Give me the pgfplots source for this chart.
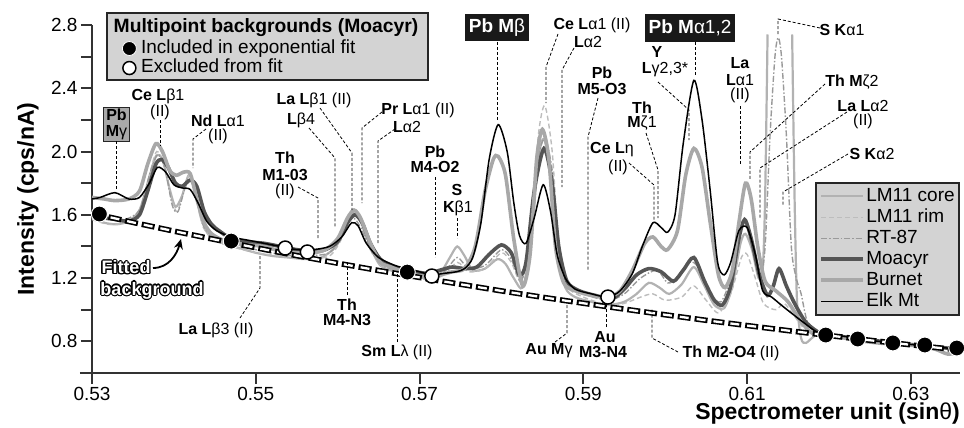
\documentclass[border=0pt]{standalone}
\usepackage{fontspec}
\setmainfont{Liberation Sans}
\usepackage{pgfplots}
\pgfplotsset{compat=1.18}
\usetikzlibrary{arrows.meta}
\usepackage{contour}
\contourlength{1.1pt}
\definecolor{axgray}{HTML}{333333}
\definecolor{coreC}{HTML}{B2B2B2}
\definecolor{rimC}{HTML}{BDBDBD}
\definecolor{rtC}{HTML}{9A9A9A}
\definecolor{moaC}{HTML}{555555}
\definecolor{burC}{HTML}{A8A8A8}
\definecolor{legfill}{HTML}{D3D3D3}
\definecolor{boxgray}{HTML}{A9A9A9}
\newcommand{\an}{\fontsize{16}{17}\selectfont}

\begin{document}
\begin{tikzpicture}
\begin{axis}[
    at={(92pt,-373pt)}, anchor=south west,
    scale only axis, width=868pt, height=348pt,
    xmin=0.53, xmax=0.636, ymin=0.6, ymax=2.8,
    axis lines=left,
    axis line style={axgray, line width=2.4pt, -},
    x axis line style={shorten <=-12pt},
    tick align=outside,
    major tick length=11pt, minor tick length=11pt,
    tick style={axgray, line width=2pt},
    xtick={0.53,0.55,0.57,0.59,0.61,0.63},
    ytick={0.8,1.2,1.6,2.0,2.4,2.8},
    minor ytick={1.0,1.4,1.8,2.2,2.6},
    /pgf/number format/assume math mode=true,
    xticklabel style={/pgf/number format/.cd, fixed, fixed zerofill, precision=2},
    yticklabel style={/pgf/number format/.cd, fixed, fixed zerofill, precision=1},
    ticklabel style={font=\fontsize{19}{20}\selectfont},
    xlabel={\textbf{Spectrometer unit (sin}θ\textbf{)}},
    ylabel={\textbf{Intensity (cps/nA)}},
    xlabel style={at={(axis description cs:1,0)}, anchor=north east, yshift=-30pt, inner sep=0pt, font=\fontsize{23}{24}\selectfont},
    ylabel style={at={(axis description cs:-0.0737,0.5)}, anchor=center, font=\fontsize{23}{24}\selectfont},
    clip=false,
    legend style={at={(1,0.549)}, anchor=north east, fill=legfill, draw=black!85, line width=1.6pt,
      font=\fontsize{19}{20}\selectfont, inner xsep=3pt, inner ysep=3pt, row sep=0pt,
      nodes={inner sep=1.5pt, text height=14pt, text depth=4pt}},
    legend cell align=left,
    legend image code/.code={\draw[#1] (0pt,0pt) -- (42pt,0pt);},
  ]

  % LM11 core
  \addplot[coreC, line width=2.2pt, smooth, tension=0.45] coordinates {
    (0.5300,1.58) (0.5315,1.55) (0.5330,1.54) (0.5345,1.56) (0.5358,1.63) (0.5368,1.80)
    (0.5378,1.97) (0.5386,1.95) (0.5395,1.76) (0.5402,1.65) (0.5410,1.72) (0.5418,1.85)
    (0.5425,1.78) (0.5433,1.58) (0.5443,1.47) (0.5460,1.42) (0.5480,1.39) (0.5500,1.36)
    (0.5520,1.34) (0.5540,1.33) (0.5560,1.32) (0.5580,1.33) (0.5598,1.40) (0.5610,1.53)
    (0.5619,1.61) (0.5628,1.56) (0.5640,1.40) (0.5652,1.28) (0.5670,1.24) (0.5690,1.21)
    (0.5710,1.20) (0.5725,1.23) (0.5737,1.33) (0.5746,1.40) (0.5755,1.34) (0.5765,1.25)
    (0.5780,1.26) (0.5795,1.32) (0.5805,1.29) (0.5815,1.20) (0.5826,1.14) (0.5836,1.42)
    (0.5845,1.95) (0.5852,2.08) (0.5860,1.85) (0.5868,1.36) (0.5878,1.14) (0.5890,1.08)
    (0.5910,1.05) (0.5930,1.03) (0.5950,1.05) (0.5965,1.10) (0.5980,1.17) (0.5993,1.14)
    (0.6005,1.10) (0.6020,1.16) (0.6035,1.27) (0.6048,1.15) (0.6060,1.03) (0.6072,1.01)
    (0.6082,1.15) (0.6092,1.42) (0.6098,1.48) (0.6106,1.38) (0.6114,1.20) (0.6119,1.25)
    (0.6122,1.70) (0.6125,2.74)};
  \addlegendentry{LM11 core}
  \addplot[coreC, line width=2.2pt, smooth, tension=0.45, forget plot] coordinates {
    (0.6155,2.74) (0.6158,1.70) (0.6161,1.05) (0.6166,0.82) (0.6172,0.79) (0.6185,0.84)
    (0.6210,0.83) (0.6240,0.81) (0.6270,0.795) (0.6300,0.775) (0.6330,0.765) (0.6358,0.75)};

  % LM11 rim
  \addplot[rimC, line width=1.4pt, dash pattern=on 5pt off 3pt, smooth, tension=0.45] coordinates {
    (0.5300,1.57) (0.5320,1.54) (0.5340,1.55) (0.5358,1.62) (0.5370,1.85) (0.5379,2.00)
    (0.5388,1.92) (0.5397,1.70) (0.5404,1.62) (0.5412,1.75) (0.5419,1.85) (0.5427,1.72)
    (0.5436,1.52) (0.5450,1.44) (0.5470,1.40) (0.5500,1.36) (0.5530,1.34) (0.5560,1.32)
    (0.5590,1.34) (0.5605,1.45) (0.5618,1.60) (0.5628,1.55) (0.5640,1.38) (0.5655,1.27)
    (0.5680,1.22) (0.5710,1.19) (0.5730,1.22) (0.5746,1.30) (0.5760,1.24) (0.5780,1.26)
    (0.5800,1.36) (0.5812,1.30) (0.5824,1.18) (0.5835,1.45) (0.5845,2.10) (0.5853,2.29)
    (0.5862,2.00) (0.5870,1.40) (0.5880,1.15) (0.5900,1.08) (0.5930,1.03) (0.5950,1.04)
    (0.5970,1.08) (0.5985,1.10) (0.6000,1.06) (0.6020,1.08) (0.6035,1.15) (0.6050,1.06)
    (0.6065,0.98) (0.6080,1.10) (0.6093,1.33) (0.6100,1.35) (0.6110,1.20) (0.6120,1.04)
    (0.6135,1.00) (0.6145,1.04) (0.6155,0.98) (0.6170,0.88) (0.6190,0.84) (0.6220,0.825)
    (0.6260,0.80) (0.6300,0.78) (0.6330,0.765) (0.6358,0.75)};
  \addlegendentry{LM11 rim}

  % RT-87
  \addplot[rtC, line width=1.4pt, dash pattern=on 6pt off 2pt on 1.5pt off 2pt, smooth, tension=0.45] coordinates {
    (0.5300,1.60) (0.5320,1.57) (0.5340,1.57) (0.5358,1.63) (0.5370,1.85) (0.5380,1.98)
    (0.5389,1.90) (0.5398,1.66) (0.5405,1.62) (0.5413,1.76) (0.5420,1.82) (0.5428,1.70)
    (0.5437,1.52) (0.5450,1.46) (0.5470,1.42) (0.5500,1.38) (0.5530,1.35) (0.5560,1.34)
    (0.5590,1.36) (0.5605,1.47) (0.5618,1.58) (0.5628,1.52) (0.5640,1.38) (0.5655,1.28)
    (0.5680,1.24) (0.5710,1.21) (0.5730,1.24) (0.5746,1.33) (0.5760,1.26) (0.5780,1.28)
    (0.5800,1.38) (0.5812,1.32) (0.5824,1.18) (0.5835,1.42) (0.5845,1.95) (0.5853,2.08)
    (0.5862,1.88) (0.5870,1.38) (0.5880,1.16) (0.5900,1.10) (0.5930,1.06) (0.5950,1.10)
    (0.5970,1.20) (0.5990,1.25) (0.6003,1.17) (0.6015,1.20) (0.6030,1.30) (0.6040,1.27)
    (0.6055,1.10) (0.6068,1.05) (0.6080,1.20) (0.6093,1.50) (0.6099,1.55) (0.6108,1.35)
    (0.6116,1.20) (0.6122,1.40) (0.6128,2.10) (0.6134,2.60) (0.6138,2.72) (0.6142,2.60)
    (0.6148,2.10) (0.6154,1.40) (0.6160,1.20) (0.6166,1.10) (0.6174,0.92) (0.6190,0.85)
    (0.6220,0.83) (0.6260,0.80) (0.6300,0.78) (0.6330,0.77) (0.6358,0.755)};
  \addlegendentry{RT-87}

  % Moacyr
  \addplot[moaC, line width=3.6pt, smooth, tension=0.45] coordinates {
    (0.5300,1.59) (0.5315,1.58) (0.5330,1.57) (0.5345,1.56) (0.5358,1.60) (0.5368,1.75)
    (0.5378,1.92) (0.5385,1.95) (0.5393,1.90) (0.5402,1.80) (0.5410,1.78) (0.5420,1.82)
    (0.5428,1.78) (0.5437,1.62) (0.5446,1.54) (0.5455,1.50) (0.5470,1.45) (0.5490,1.43)
    (0.5510,1.42) (0.5530,1.40) (0.5550,1.38) (0.5570,1.37) (0.5585,1.38) (0.5600,1.43)
    (0.5612,1.55) (0.5621,1.60) (0.5630,1.55) (0.5640,1.42) (0.5652,1.32) (0.5665,1.28)
    (0.5680,1.25) (0.5695,1.24) (0.5710,1.23) (0.5725,1.25) (0.5740,1.27) (0.5755,1.26)
    (0.5770,1.27) (0.5785,1.35) (0.5800,1.41) (0.5812,1.36) (0.5822,1.22) (0.5830,1.30)
    (0.5840,1.75) (0.5852,2.02) (0.5862,1.80) (0.5870,1.40) (0.5880,1.18) (0.5895,1.12)
    (0.5915,1.09) (0.5935,1.07) (0.5950,1.13) (0.5965,1.22) (0.5980,1.26) (0.5995,1.24)
    (0.6010,1.18) (0.6022,1.25) (0.6035,1.33) (0.6048,1.18) (0.6060,1.06) (0.6070,1.03)
    (0.6080,1.15) (0.6090,1.45) (0.6097,1.57) (0.6105,1.45) (0.6115,1.22) (0.6125,1.09)
    (0.6132,1.15) (0.6139,1.26) (0.6148,1.15) (0.6158,1.04) (0.6172,0.92) (0.6190,0.85)
    (0.6210,0.835) (0.6230,0.82) (0.6250,0.81) (0.6270,0.795) (0.6290,0.785) (0.6310,0.775)
    (0.6330,0.765) (0.6358,0.75)};
  \addlegendentry{Moacyr}

  % Burnet
  \addplot[burC, line width=3.6pt, smooth, tension=0.45] coordinates {
    (0.5300,1.71) (0.5315,1.70) (0.5328,1.69) (0.5345,1.70) (0.5358,1.75) (0.5368,1.92)
    (0.5378,2.05) (0.5386,2.00) (0.5395,1.88) (0.5403,1.85) (0.5412,1.87) (0.5420,1.86)
    (0.5428,1.70) (0.5437,1.55) (0.5446,1.48) (0.5460,1.44) (0.5475,1.42) (0.5490,1.41)
    (0.5510,1.40) (0.5530,1.37) (0.5550,1.36) (0.5570,1.36) (0.5585,1.38) (0.5600,1.45)
    (0.5612,1.58) (0.5620,1.63) (0.5628,1.58) (0.5640,1.42) (0.5652,1.30) (0.5665,1.27)
    (0.5680,1.24) (0.5695,1.22) (0.5710,1.21) (0.5725,1.22) (0.5740,1.24) (0.5755,1.26)
    (0.5768,1.40) (0.5780,1.75) (0.5790,1.95) (0.5796,1.97) (0.5805,1.85) (0.5815,1.45)
    (0.5826,1.15) (0.5835,1.35) (0.5843,1.95) (0.5850,2.14) (0.5858,1.95) (0.5866,1.40)
    (0.5876,1.17) (0.5890,1.12) (0.5910,1.09) (0.5930,1.08) (0.5945,1.12) (0.5960,1.25)
    (0.5975,1.42) (0.5985,1.46) (0.5995,1.40) (0.6003,1.38) (0.6015,1.50) (0.6025,1.85)
    (0.6035,2.02) (0.6045,1.90) (0.6055,1.55) (0.6065,1.22) (0.6073,1.14) (0.6082,1.25)
    (0.6090,1.55) (0.6098,1.80) (0.6105,1.70) (0.6113,1.40) (0.6122,1.18) (0.6135,1.12)
    (0.6150,1.05) (0.6165,0.93) (0.6180,0.85) (0.6200,0.84) (0.6230,0.81) (0.6260,0.79)
    (0.6290,0.78) (0.6310,0.77) (0.6330,0.75) (0.6345,0.72) (0.6360,0.73)};
  \addlegendentry{Burnet}

  % Elk Mt
  \addplot[black, line width=1.5pt, smooth, tension=0.45] coordinates {
    (0.5300,1.70) (0.5310,1.71) (0.5328,1.74) (0.5345,1.70) (0.5358,1.71) (0.5370,1.80)
    (0.5380,1.90) (0.5390,1.87) (0.5400,1.79) (0.5410,1.77) (0.5420,1.76) (0.5430,1.67)
    (0.5440,1.56) (0.5452,1.50) (0.5470,1.46) (0.5490,1.44) (0.5510,1.42) (0.5530,1.40)
    (0.5550,1.38) (0.5570,1.38) (0.5590,1.40) (0.5605,1.46) (0.5617,1.55) (0.5625,1.53)
    (0.5635,1.42) (0.5650,1.33) (0.5670,1.28) (0.5685,1.26) (0.5700,1.24) (0.5715,1.22)
    (0.5730,1.23) (0.5745,1.24) (0.5755,1.26) (0.5765,1.33) (0.5775,1.55) (0.5785,1.95)
    (0.5796,2.17) (0.5807,2.00) (0.5815,1.68) (0.5822,1.47) (0.5830,1.42) (0.5840,1.58)
    (0.5851,1.79) (0.5860,1.62) (0.5868,1.35) (0.5878,1.20) (0.5890,1.13) (0.5910,1.10)
    (0.5930,1.08) (0.5945,1.12) (0.5960,1.23) (0.5972,1.40) (0.5985,1.55) (0.5995,1.52)
    (0.6003,1.49) (0.6012,1.60) (0.6022,2.05) (0.6035,2.45) (0.6045,2.20) (0.6055,1.75)
    (0.6064,1.30) (0.6072,1.22) (0.6080,1.30) (0.6090,1.50) (0.6100,1.52) (0.6110,1.35)
    (0.6119,1.12) (0.6130,1.08) (0.6144,1.02) (0.6165,0.935) (0.6185,0.86) (0.6200,0.845)
    (0.6220,0.83) (0.6240,0.815) (0.6260,0.80) (0.6280,0.79) (0.6300,0.78) (0.6320,0.77)
    (0.6340,0.76) (0.6358,0.75)};
  \addlegendentry{Elk Mt}

  % fitted exponential background
  \addplot[black, line width=5.5pt, dash pattern=on 13pt off 4pt, forget plot] coordinates {
    (0.530,1.610) (0.535,1.552) (0.540,1.497) (0.545,1.444) (0.550,1.392) (0.555,1.342)
    (0.560,1.294) (0.565,1.248) (0.570,1.204) (0.575,1.161) (0.580,1.119) (0.585,1.079)
    (0.590,1.041) (0.595,1.004) (0.600,0.968) (0.605,0.933) (0.610,0.900) (0.615,0.868)
    (0.620,0.837) (0.625,0.807) (0.630,0.778) (0.636,0.745)};
  \addplot[white, line width=2.3pt, dash pattern=on 9pt off 8pt, dash phase=15pt, forget plot] coordinates {
    (0.530,1.610) (0.535,1.552) (0.540,1.497) (0.545,1.444) (0.550,1.392) (0.555,1.342)
    (0.560,1.294) (0.565,1.248) (0.570,1.204) (0.575,1.161) (0.580,1.119) (0.585,1.079)
    (0.590,1.041) (0.595,1.004) (0.600,0.968) (0.605,0.933) (0.610,0.900) (0.615,0.868)
    (0.620,0.837) (0.625,0.807) (0.630,0.778) (0.636,0.745)};

  % multipoint backgrounds
  \addplot[only marks, mark=*, mark size=8pt, mark options={fill=black, draw=white, line width=1pt}, forget plot]
    coordinates {(0.5309,1.605) (0.5470,1.434) (0.5685,1.238) (0.6196,0.840)
                 (0.6235,0.815) (0.6278,0.790) (0.6317,0.777) (0.6356,0.758)};
  \addplot[only marks, mark=*, mark size=7pt, mark options={fill=white, draw=black, line width=1.5pt}, forget plot]
    coordinates {(0.5536,1.390) (0.5563,1.365) (0.5715,1.213) (0.5930,1.080)};
\end{axis}

\begin{scope}[x=1pt, y=-1pt]
  \tikzset{lead/.style={black, line width=0.8pt, dash pattern=on 3pt off 2pt},
           lab/.style={font=\an, inner sep=0pt}}
  % background legend box
  \draw[fill=legfill, draw=black!85, line width=1.6pt] (107,13) rectangle (428,80);
  \node[font=\fontsize{19.3}{20}\selectfont\bfseries, inner sep=0pt] at (266,28) {Multipoint backgrounds (Moacyr)};

  % label boxes
  \node[draw=black!85, fill=boxgray, line width=1.2pt, inner xsep=2pt, inner ysep=1.5pt, align=center,
        font=\fontsize{16}{16.5}\selectfont] at (116.5,124.5) {\textbf{Pb}\\\textbf{M}γ};
  \node[fill=black!90, text=white, font=\fontsize{19}{20}\selectfont, inner xsep=4pt, minimum height=27pt] at (497,28) {\textbf{Pb M}β};
  \node[fill=black!90, text=white, font=\fontsize{19}{20}\selectfont, inner xsep=4pt, minimum height=28pt] at (690,28) {\textbf{Pb M}α1,2};

  % upper labels
  \node[lab] at (158,96) {\textbf{Ce L}β1};
  \node[lab] at (160,112) {(II)};
  \node[lab] at (218,121) {\textbf{Nd L}α1};
  \node[lab] at (218,136) {(II)};
  \node[lab] at (314,100) {\textbf{La L}β1 (II)};
  \node[lab] at (301,120) {\textbf{L}β4};
  \node[lab] at (285,158) {\textbf{Th}};
  \node[lab] at (285,175) {\textbf{M1-03}};
  \node[lab] at (285,191) {(II)};
  \node[lab] at (418,110) {\textbf{Pr L}α1 (II)};
  \node[lab] at (407,127) {\textbf{L}α2};
  \node[lab] at (435,152) {\textbf{Pb}};
  \node[lab] at (435,167) {\textbf{M4-O2}};
  \node[lab] at (457,190) {\textbf{S}};
  \node[lab] at (458,208) {\textbf{K}β1};
  \node[lab] at (592,25) {\textbf{Ce L}α1 (II)};
  \node[lab] at (588,42) {\textbf{L}α2};
  \node[lab] at (602,73) {\textbf{Pb}};
  \node[lab] at (602,89) {\textbf{M5-O3}};
  \node[lab] at (657,52) {\textbf{Y}};
  \node[lab] at (665,70) {\textbf{L}γ2,3*};
  \node[lab] at (642,108) {\textbf{Th}};
  \node[lab] at (642,123) {\textbf{M}ζ1};
  \node[lab] at (612,150) {\textbf{Ce L}η};
  \node[lab] at (618,167) {(II)};
  \node[lab] at (740,63) {\textbf{La}};
  \node[lab] at (740,80) {\textbf{L}α1};
  \node[lab] at (740,95) {(II)};
  \node[lab] at (852,82) {\textbf{Th M}ζ2};
  \node[lab] at (863,106) {\textbf{La L}α2};
  \node[lab] at (863,121) {(II)};
  \node[lab] at (842,30) {\textbf{S K}α1};
  \node[lab] at (872,154) {\textbf{S K}α2};

  % lower labels
  \node[lab] at (216,330) {\textbf{La L}β3 (II)};
  \node[lab] at (347,305) {\textbf{Th}};
  \node[lab] at (347,320) {\textbf{M4-N3}};
  \node[lab] at (397,352) {\textbf{Sm L}λ (II)};
  \node[lab] at (549,351) {\textbf{Au M}γ};
  \node[lab] at (605,337) {\textbf{Au}};
  \node[lab] at (603,352) {\textbf{M3-N4}};
  \node[lab] at (731,353) {\textbf{Th M2-O4} (II)};

  % fitted background callout
  \node[font=\fontsize{18}{19}\selectfont\bfseries, inner sep=0pt, text=white] at (126,268) {\contour{black}{Fitted}};
  \node[font=\fontsize{18}{19}\selectfont\bfseries, inner sep=0pt, text=white] at (152,291) {\contour{black}{background}};
  \draw[line width=1.8pt, -{Stealth[length=10pt, width=9pt]}] (153,268) to[out=0, in=-105] (181,239);

  % leader lines
  \draw[lead] (116,141) -- (116,190);
  \draw[lead] (160,120) -- (160,146);
  \draw[lead] (206,129) -- (193,139) -- (193,168);
  \draw[lead] (320,108) -- (352,153) -- (352,210);
  \draw[lead] (309,128) -- (335,158) -- (335,228);
  \draw[lead] (298,187) -- (318,198) -- (318,240);
  \draw[lead] (382,112) -- (362,128) -- (362,203);
  \draw[lead] (395,129) -- (378,141) -- (378,243);
  \draw[lead] (435,177) -- (435,257);
  \draw[lead] (457,218) -- (457,238);
  \draw[lead] (497,42) -- (497,120);
  \draw[lead] (558,34) -- (546,67) -- (546,103);
  \draw[lead] (574,48) -- (562,70) -- (562,187);
  \draw[lead] (598,98) -- (588,137) -- (588,270);
  \draw[lead] (658,82) -- (689,110) -- (689,140);
  \draw[lead] (695,42) -- (695,75);
  \draw[lead] (646,133) -- (658,170) -- (658,218);
  \draw[lead] (629,163) -- (654,185) -- (654,222);
  \draw[lead] (740,106) -- (740,165);
  \draw[lead] (825,84) -- (750,152) -- (750,180);
  \draw[lead] (847,112) -- (760,168) -- (760,218);
  \draw[lead] (820,28) -- (778,19) -- (778,36);
  \draw[lead] (848,154) -- (783,192) -- (783,205);
  \draw[lead] (240,318) -- (260,288) -- (260,256);
  \draw[lead] (347,295) -- (347,262);
  \draw[lead] (397,342) -- (397,272);
  \draw[lead] (555,342) -- (567,333) -- (567,305);
  \draw[lead] (606,327) -- (606,305);
  \draw[lead] (678,352) -- (652,338) -- (652,308);
\end{scope}

% legend for the background points
\begin{axis}[
    at={(92pt,-373pt)}, anchor=south west,
    scale only axis, width=868pt, height=348pt,
    hide axis, xmin=0, xmax=1, ymin=0, ymax=1,
    legend style={at={(0.0328,0.961)}, anchor=north west, draw=none, fill=none,
      font=\fontsize{19}{20}\selectfont, inner sep=0pt, row sep=0pt,
      nodes={inner sep=1pt, text height=13.5pt, text depth=4pt}},
    legend cell align=left,
    legend image code/.code={\path (0pt,0pt) (19pt,0pt); \draw[#1] plot coordinates {(8.5pt,0pt)};},
  ]
  \addlegendimage{only marks, mark=*, mark size=7pt, mark options={fill=black, draw=white, line width=0.8pt}}
  \addlegendentry{Included in exponential fit}
  \addlegendimage{only marks, mark=*, mark size=6.5pt, mark options={fill=white, draw=black, line width=1.5pt}}
  \addlegendentry{Excluded from fit}
\end{axis}

\pgfresetboundingbox
\path[use as bounding box] (0pt,0pt) rectangle (964pt,-428pt);
\end{tikzpicture}
\end{document}
